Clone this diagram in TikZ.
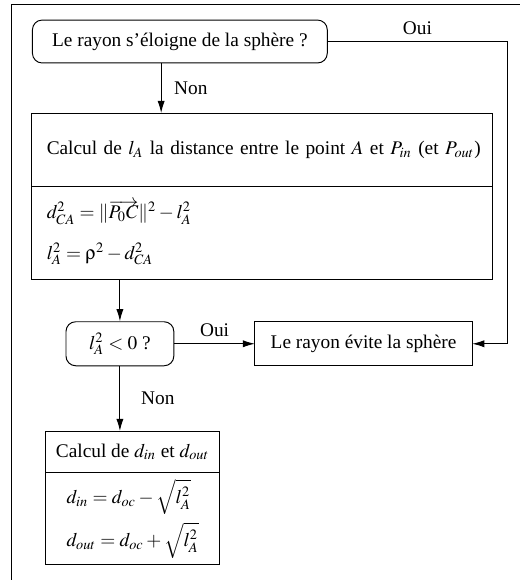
\documentclass[tikz,border=0pt]{standalone}
\usepackage{mathptmx}
\usepackage[Symbol]{upgreek}
\usepackage[no-math]{fontspec}
\setmainfont{Liberation Serif}
\usetikzlibrary{arrows.meta}

\begin{document}
\begin{tikzpicture}[
    askbox/.style={draw,rounded corners=5pt,line width=0.5pt,align=center},
    stepbox/.style={draw,line width=0.5pt,outer sep=0pt},
    arr/.style={-{Latex[length=2.2mm,width=1.3mm]},line width=0.5pt}]

    \useasboundingbox (0,0) rectangle (9.455,-10.545);
    % cadre de la page
    \draw[line width=0.5pt] (0.2,-10.545) |- (9.455,-0.09);

    \node[askbox,minimum width=5.36cm,minimum height=0.78cm] (ask) at (3.27,-0.755)
      {Le rayon s’éloigne de la sphère ?};

    \node[stepbox,text width=7.84cm,inner xsep=0.27cm,minimum height=1.33cm,align=left,anchor=north]
      (dist) at (4.77,-2.055)
      {\mbox{Calcul de $l_A$ la distance entre le point $A$ et $P_{in}$ (et $P_{out}$)}};
    \node[stepbox,text width=7.84cm,inner xsep=0.27cm,minimum height=1.69cm,align=left,anchor=north]
      (disteq) at (dist.south)
      {$d_{CA}^2 = \|\overrightarrow{P_0C}\|^2 - l_A^2$\\[9pt]$l_A^2 = \uprho^2 - d_{CA}^2$};

    \node[askbox,minimum width=1.96cm,minimum height=0.8cm] (test) at (2.18,-6.25)
      {$l_A^2 < 0$ ?};
    \node[stepbox,minimum width=3.95cm,minimum height=0.8cm] (miss) at (6.61,-6.25)
      {Le rayon évite la sphère};

    \node[stepbox,minimum width=3.15cm,minimum height=0.76cm,anchor=north] (hit) at (2.41,-7.836)
      {Calcul de $d_{in}$ et $d_{out}$};
    \node[stepbox,minimum width=3.15cm,minimum height=1.58cm,align=left,anchor=north] (hiteq) at (hit.south)
      {$d_{in} = d_{oc} - \sqrt{l_A^2}$\\[3pt]$d_{out} = d_{oc} + \sqrt{l_A^2}$};

    % connecteurs
    \coordinate (rbend) at (9.22,0);
    \draw[arr] (ask.east) -- (ask.east -| rbend) node[midway,above]{Oui} |- (miss.east);
    \draw[arr] ([xshift=-0.34cm]ask.south) -- ([xshift=-0.34cm]ask.south |- dist.north)
      node[midway,right,xshift=0.11cm]{Non};
    \draw[arr] (test.north |- disteq.south) -- (test.north);
    \draw[arr] (test.east) -- (miss.west) node[midway,above]{Oui};
    \draw[arr] (test.south) -- (test.south |- hit.north)
      node[midway,right,xshift=0.26cm]{Non};

  \end{tikzpicture}
\end{document}
